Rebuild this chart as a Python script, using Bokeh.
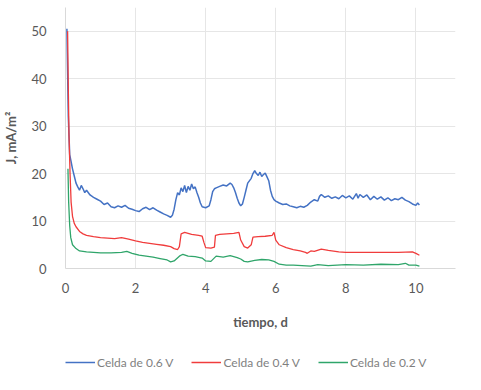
from bokeh.plotting import figure
from bokeh.models import Legend, LegendItem, Range1d, FixedTicker
from bokeh.layouts import column
from bokeh.embed import file_html
from bokeh.resources import INLINE

# Data
x_06 = [0.04, 0.08, 0.12, 0.16, 0.2, 0.25, 0.3, 0.35, 0.4, 0.45, 0.5, 0.55, 0.6, 0.7, 0.8, 0.9, 1.0,
        1.1, 1.2, 1.3, 1.4, 1.5, 1.6, 1.7, 1.8, 1.9, 2.0, 2.1, 2.2, 2.3, 2.4, 2.5, 2.6, 2.7, 2.8, 2.9,
        3.0, 3.05, 3.1, 3.15, 3.2, 3.25, 3.3, 3.35, 3.4, 3.45, 3.5, 3.55, 3.6, 3.65, 3.7, 3.75, 3.8,
        3.85, 3.9, 4.0, 4.1, 4.15, 4.2, 4.25, 4.3, 4.4, 4.5, 4.6, 4.7, 4.75, 4.8, 4.85, 4.9, 4.95,
        5.0, 5.05, 5.1, 5.15, 5.2, 5.3, 5.35, 5.4, 5.45, 5.5, 5.55, 5.6, 5.65, 5.7, 5.75, 5.8, 5.85,
        5.9, 5.95, 6.0, 6.1, 6.2, 6.3, 6.4, 6.5, 6.6, 6.7, 6.8, 6.9, 7.0, 7.1, 7.2, 7.25, 7.3, 7.4,
        7.5, 7.6, 7.7, 7.8, 7.9, 8.0, 8.1, 8.2, 8.3, 8.35, 8.4, 8.5, 8.6, 8.7, 8.8, 8.9, 9.0, 9.1,
        9.2, 9.3, 9.4, 9.5, 9.6, 9.7, 9.8, 9.9, 10.0, 10.05, 10.1]
y_06 = [50.5, 32, 24, 22.5, 21, 19.5, 18, 17.2, 16.5, 17.5, 16.8, 16, 16.5, 15.5, 15, 14.6, 14.2,
        13.5, 13.8, 13.0, 12.8, 13.2, 12.9, 13.3, 12.7, 12.5, 12.2, 12.0, 12.6, 12.9, 12.4, 12.8,
        12.3, 11.9, 11.5, 11.2, 10.8, 11.2, 12.5, 14.5, 16.0, 15.5, 17.0, 16.2, 17.5, 16.0, 17.3,
        16.5, 17.8, 16.8, 17.2, 16.0, 15.0, 13.8, 13.0, 12.8, 13.2, 14.5, 16.2, 16.8, 17.0, 17.3,
        17.6, 17.4, 18.0, 17.7, 17.0, 16.0, 14.8, 13.8, 13.2, 13.6, 15.0, 16.5, 18.0, 19.0, 20.0,
        20.6, 20.0, 19.6, 20.3, 19.4, 19.8, 20.1, 19.3, 18.5, 16.5, 15.2, 14.5, 14.2, 13.8, 13.5,
        13.6, 13.2, 13.0, 12.8, 13.1, 12.9, 13.3, 14.0, 14.5, 14.2, 15.2, 15.6, 15.0, 15.3, 14.8,
        15.1, 14.7, 15.4, 14.9, 15.3, 14.6, 15.8, 14.8, 15.6, 15.0, 15.5, 14.5, 15.2, 14.6, 15.1,
        14.4, 14.9, 14.3, 14.7, 14.5, 15.0, 14.4, 14.1, 13.6, 13.3, 13.8, 13.4]

x_04 = [0.06, 0.08, 0.1, 0.13, 0.16, 0.2, 0.25, 0.3, 0.4, 0.5, 0.6, 0.8, 1.0, 1.2, 1.4, 1.6, 1.8,
        2.0, 2.2, 2.4, 2.6, 2.8, 3.0, 3.1, 3.2, 3.25, 3.3, 3.4, 3.6, 3.8, 3.9, 3.95, 4.0, 4.15, 4.25,
        4.28, 4.4, 4.6, 4.8, 4.95, 5.0, 5.1, 5.2, 5.3, 5.35, 5.5, 5.7, 5.9, 5.95, 6.0, 6.1, 6.3, 6.5,
        6.7, 6.85, 6.9, 7.0, 7.1, 7.3, 7.5, 7.8, 8.0, 8.5, 9.0, 9.5, 9.9, 10.0, 10.1]
y_04 = [50, 38, 28, 20, 14, 11, 9.5, 8.8, 7.8, 7.3, 7.0, 6.7, 6.5, 6.4, 6.3, 6.5, 6.2, 5.8, 5.5,
        5.3, 5.1, 4.9, 4.6, 4.2, 4.0, 4.6, 7.3, 7.6, 7.2, 7.0, 6.8, 5.5, 4.4, 4.3, 4.5, 7.0, 7.2,
        7.3, 7.4, 7.6, 6.0, 4.6, 4.3, 5.0, 6.6, 6.7, 6.8, 7.0, 7.6, 6.0, 5.0, 4.4, 4.0, 3.7, 3.4,
        3.2, 3.7, 3.6, 4.1, 3.8, 3.5, 3.4, 3.4, 3.4, 3.4, 3.5, 3.2, 2.8]

x_02 = [0.07, 0.09, 0.12, 0.15, 0.2, 0.3, 0.4, 0.6, 0.8, 1.0, 1.3, 1.6, 1.75, 1.9, 2.1, 2.3, 2.5,
        2.7, 2.9, 3.0, 3.1, 3.25, 3.35, 3.5, 3.7, 3.9, 4.0, 4.15, 4.3, 4.5, 4.7, 4.9, 5.0, 5.1, 5.2,
        5.4, 5.6, 5.8, 5.95, 6.1, 6.3, 6.5, 7.0, 7.2, 7.5, 8.0, 8.5, 9.0, 9.5, 9.7, 9.8, 10.0, 10.1]
y_02 = [21, 14, 9, 6.5, 5.0, 4.2, 3.7, 3.5, 3.4, 3.3, 3.3, 3.4, 3.6, 3.2, 2.8, 2.6, 2.4, 2.1, 1.8,
        1.4, 1.6, 2.6, 3.0, 2.6, 2.5, 2.2, 1.6, 1.5, 2.6, 2.4, 2.7, 2.3, 2.0, 1.5, 1.4, 1.7, 1.9,
        1.8, 1.5, 0.9, 0.7, 0.7, 0.5, 0.8, 0.6, 0.8, 0.7, 0.9, 0.8, 1.1, 0.7, 0.7, 0.5]

series_names = ["Celda de 0.6 V", "Celda de 0.4 V", "Celda de 0.2 V"]
series_colors = ["#4472C4", "#F03C3C", "#2FA56A"]
x_ticks = [0, 2, 4, 6, 8, 10]
y_ticks = [0, 10, 20, 30, 40, 50]

FONT = "Lato"
GRAY = "#595959"

p = figure(width=465, height=339, output_backend="svg", toolbar_location=None,
           x_range=Range1d(0, 11.13), y_range=Range1d(0, 55),
           min_border_left=56, min_border_right=10, min_border_top=7, min_border_bottom=71)
p.outline_line_color = None
p.background_fill_color = "white"
p.border_fill_color = "white"

for ax in (p.xaxis[0], p.yaxis[0]):
    ax.major_tick_line_color = None
    ax.minor_tick_line_color = None
    ax.axis_line_color = "#D9D9D9"
    ax.major_label_text_color = GRAY
    ax.major_label_text_font = FONT
    ax.major_label_text_font_size = "13px"
    ax.axis_label_text_color = GRAY
    ax.axis_label_text_font = FONT
    ax.axis_label_text_font_size = "13px"
    ax.axis_label_text_font_style = "bold"

p.xaxis.ticker = FixedTicker(ticks=x_ticks)
p.yaxis.ticker = FixedTicker(ticks=y_ticks)
p.xaxis.axis_label = "tiempo, d"
p.yaxis.axis_label = "J, mA/m²"
p.xaxis.major_label_standoff = 8
p.xaxis.axis_label_standoff = 18
p.yaxis.major_label_standoff = 13
p.yaxis.axis_label_standoff = 9

p.xgrid.ticker = FixedTicker(ticks=x_ticks)
p.ygrid.ticker = FixedTicker(ticks=y_ticks)
p.xgrid.grid_line_color = "#E6E6E6"
p.ygrid.grid_line_color = "#E6E6E6"

series_x = [x_06, x_04, x_02]
series_y = [y_06, y_04, y_02]
widths = [1.5, 1.3, 1.3]
for xs, ys, col, w in zip(series_x, series_y, series_colors, widths):
    p.line(xs, ys, line_color=col, line_width=w)

# Legend strip below the chart (its lines lie outside its visible range)
lg = figure(width=465, height=46, output_backend="svg", toolbar_location=None,
            x_range=Range1d(-100, -99), y_range=Range1d(-100, -99),
            x_axis_location=None, y_axis_location=None,
            min_border_left=56, min_border_right=10, min_border_top=0, min_border_bottom=0)
lg.grid.visible = False
lg.outline_line_color = None
items = []
for name, col, xs, ys in zip(series_names, series_colors, series_x, series_y):
    r = lg.line(xs, ys, line_color=col, line_width=1.5)
    items.append(LegendItem(label=name, renderers=[r]))
legend = Legend(items=items, orientation="horizontal", location=(0, 13),
                label_text_font=FONT, label_text_font_size="12px", label_text_color="#7F7F7F",
                glyph_width=30, label_standoff=2, spacing=18, padding=0, margin=0,
                border_line_color=None, background_fill_alpha=0)
lg.add_layout(legend, "center")

layout = column(p, lg, spacing=0)
open("out.html", "w").write(file_html(layout, INLINE))
